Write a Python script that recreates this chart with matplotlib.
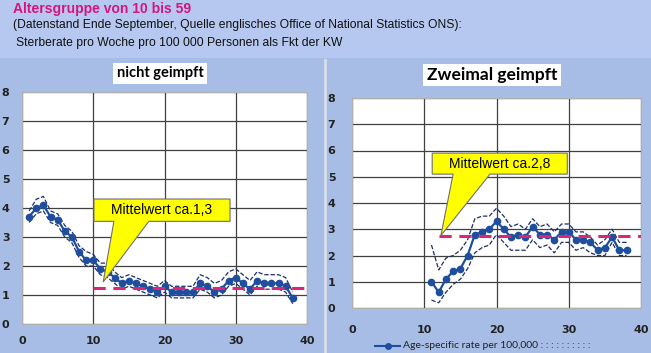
import matplotlib.pyplot as plt
from matplotlib.patches import Polygon, Rectangle
from matplotlib.lines import Line2D

# Daten: Sterberate pro Woche pro 100 000, KW
kw_ung = list(range(1, 39))
rate_ung = [3.7, 4.0, 4.1, 3.7, 3.6, 3.2, 3.0, 2.5, 2.2, 2.2, 1.9, 1.8, 1.6, 1.4, 1.5, 1.4, 1.3, 1.2, 1.1,
            1.3, 1.1, 1.1, 1.1, 1.1, 1.4, 1.3, 1.1, 1.2, 1.5, 1.6, 1.4, 1.2, 1.5, 1.4, 1.4, 1.4, 1.3, 0.9]
hi_ung = [3.9, 4.3, 4.4, 3.9, 3.8, 3.4, 3.2, 2.7, 2.5, 2.4, 2.1, 2.1, 1.8, 1.6, 1.7, 1.6, 1.5, 1.4, 1.3,
          1.5, 1.3, 1.3, 1.3, 1.3, 1.7, 1.6, 1.4, 1.5, 1.8, 1.9, 1.7, 1.5, 1.8, 1.7, 1.7, 1.7, 1.6, 1.1]
lo_ung = [3.5, 3.8, 3.9, 3.5, 3.4, 3.0, 2.8, 2.3, 2.0, 2.0, 1.7, 1.6, 1.4, 1.2, 1.3, 1.2, 1.1, 1.0, 0.9,
          1.1, 0.9, 0.9, 0.9, 0.9, 1.2, 1.1, 0.9, 1.0, 1.3, 1.4, 1.2, 1.0, 1.3, 1.2, 1.2, 1.2, 1.1, 0.7]

kw_geimpft = list(range(11, 39))
rate_geimpft = [1.0, 0.6, 1.1, 1.4, 1.5, 2.0, 2.8, 2.9, 3.0, 3.3, 3.0, 2.7, 2.8, 2.7, 3.1, 2.8, 2.8, 2.6,
                2.9, 2.9, 2.6, 2.6, 2.5, 2.2, 2.3, 2.7, 2.2, 2.2]
hi_geimpft = [2.4, 1.45, 1.9, 2.0, 2.2, 2.6, 3.4, 3.5, 3.5, 3.8, 3.5, 3.1, 3.2, 3.0, 3.4, 3.1, 3.2, 2.9,
              3.2, 3.2, 2.9, 2.9, 2.7, 2.4, 2.6, 3.0, 2.5, 2.5]
lo_geimpft = [0.3, 0.2, 0.6, 0.9, 1.1, 1.5, 2.1, 2.3, 2.4, 2.8, 2.5, 2.2, 2.2, 2.2, 2.6, 2.3, 2.4, 2.1,
              2.5, 2.5, 2.2, 2.3, 2.1, 2.0, 2.0, 2.5, 2.0, 2.0]

mittel_ung = 1.25
mittel_geimpft = 2.75

arial = ['Liberation Sans', 'DejaVu Sans']
blau = '#1f4e9e'
navy = '#1c2f66'
magenta = '#dc2478'

fig = plt.figure(figsize=(6.51, 3.53), dpi=100)
fig.patch.set_facecolor('#a7bde6')
fig.patches.append(Rectangle((0, 1 - 58 / 353), 1, 58 / 353, transform=fig.transFigure,
                             facecolor='#b6c8f0', edgecolor='none', zorder=0))
fig.lines.append(Line2D([325 / 651, 325 / 651], [0, 1 - 60 / 353], transform=fig.transFigure,
                        color='#d8deea', lw=2))

fig.text(13 / 651, 1 - 9 / 353, 'Altersgruppe von 10 bis 59', color='#d5157e', fontsize=10,
         fontweight='bold', family=arial, va='center')
fig.text(13 / 651, 1 - 25 / 353,
         '(Datenstand Ende September, Quelle englisches Office of National Statistics ONS):',
         color='#111111', fontsize=8.7, family=arial, va='center')
fig.text(16 / 651, 1 - 43 / 353, 'Sterberate pro Woche pro 100 000 Personen als Fkt der KW',
         color='#111111', fontsize=8.7, family=arial, va='center')


def panel(rect, x, y, hi, lo, mittel, mx0, box, tip, base, label, pad):
    ax = fig.add_axes(rect)
    ax.set_facecolor('white')
    ax.set_xlim(0, 40)
    ax.set_ylim(0, 8)
    ax.set_xticks([0, 10, 20, 30, 40])
    ax.set_yticks(range(0, 9))
    ax.grid(True, color='#404040', lw=0.9)
    ax.set_axisbelow(True)
    for s in ax.spines.values():
        s.set_color('#b0b0b0')
        s.set_linewidth(0.8)
    ax.tick_params(length=0, pad=pad, labelsize=8, labelcolor='#222222')
    for t in ax.get_xticklabels() + ax.get_yticklabels():
        t.set_fontweight('bold')
    ax.plot(x, hi, ls=(0, (3.5, 1.5)), color=navy, lw=0.9)
    ax.plot(x, lo, ls=(0, (3.5, 1.5)), color=navy, lw=0.9)
    ax.plot(x, y, color=blau, lw=1.6, marker='o', ms=4.5)
    ax.plot([mx0, 40], [mittel, mittel], color=magenta, lw=2.2, ls=(0, (4, 2.5)), clip_on=False)
    x0, x1, y0, y1 = box
    poly = [(x0, y1), (x1, y1), (x1, y0), (base[1], y0), tip, (base[0], y0), (x0, y0)]
    ax.add_patch(Polygon(poly, closed=True, facecolor='#ffff00', edgecolor='#707070', lw=0.8, zorder=5))
    ax.text((x0 + x1) / 2, (y0 + y1) / 2, label, ha='center', va='center', fontsize=10,
            family=arial, zorder=6)
    return ax


ax1 = panel([22 / 651, 1 - 324 / 353, 285 / 651, 232 / 353], kw_ung, rate_ung, hi_ung, lo_ung,
            mittel_ung, 10, (10.1, 29.2, 3.54, 4.31), (11.4, 1.45), (12.9, 17.8),
            'Mittelwert ca.1,3', 9)
ax2 = panel([352 / 651, 1 - 308 / 353, 289 / 651, 210 / 353], kw_geimpft, rate_geimpft, hi_geimpft,
            lo_geimpft, mittel_geimpft, 12, (11.1, 29.8, 5.1, 5.9), (12.3, 2.76), (14.0, 19.1),
            'Mittelwert ca.2,8', 12)

fig.text(160 / 651, 1 - 73 / 353, 'nicht geimpft', ha='center', va='center', fontsize=10.5,
         fontweight='bold', family=['Lato', 'DejaVu Sans'],
         bbox=dict(facecolor='white', edgecolor='none', pad=2.5))
fig.text(492 / 651, 1 - 75 / 353, 'Zweimal geimpft', ha='center', va='center', fontsize=12.5,
         fontweight='bold', family=['Lato', 'DejaVu Sans'],
         bbox=dict(facecolor='white', edgecolor='none', pad=2.5))

# Legende unten
fig.lines.append(Line2D([375 / 651, 400 / 651], [1 - 346 / 353] * 2, transform=fig.transFigure,
                        color=blau, lw=1.5))
fig.lines.append(Line2D([388 / 651], [1 - 346 / 353], transform=fig.transFigure,
                        color=blau, marker='o', ms=4))
fig.text(403 / 651, 1 - 346 / 353, 'Age-specific rate per 100,000 : : : : : : : : : :', fontsize=7.5,
         color='#222222', va='center', family=['Lato', 'DejaVu Sans'])

fig.savefig('out.png', dpi=100, facecolor=fig.get_facecolor())
